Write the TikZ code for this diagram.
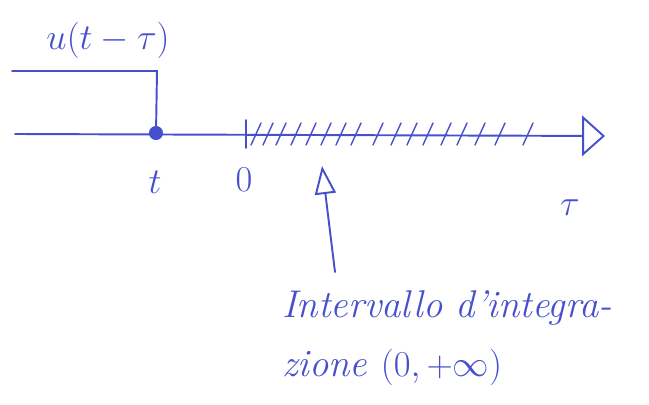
\documentclass[tikz,border=0pt]{standalone}
\usetikzlibrary{arrows.meta}
\definecolor{ink}{RGB}{70,80,205}
\begin{document}
\begin{tikzpicture}[x=0.02cm,y=-0.02cm,
  pen/.style={draw=ink,line width=1.1pt,line cap=round},
  lbl/.style={text=ink,font=\itshape\fontsize{22}{26}\selectfont,inner sep=0pt},
  note/.style={text=ink,font=\itshape\fontsize{22}{34}\selectfont,inner sep=0pt,align=left}]
\useasboundingbox (0,0) rectangle (649,405);
% axis
\coordinate (ax0) at (15,134);
\coordinate (axend) at (605,136);
\node[circle,fill=ink,inner sep=0pt,minimum size=8pt] (dot) at (156,133) {};
\draw[pen,-{Triangle[open,length=13pt,width=23pt]}] (ax0) -- (axend);
% step function
\coordinate (s0) at (12,71);
\coordinate (s1) at (157,71);
\draw[pen] (s0) -- (s1) -- (dot.center);
\node[lbl] (u) at (108,40) {$u(t-\tau)$};
% tick at 0
\coordinate (z0) at (246,120);
\coordinate (z1) at (246,148);
\draw[pen] (z0) -- (z1);
% hatching
\foreach \x in {256,268,281,296,311,326,341,356,378,396,412,428,446,462,480,500,528}
  \draw[pen,line width=0.8pt] (\x-5,145) -- (\x+5,123);
% labels
\node[lbl] (tl) at (155,182) {$t$};
\node[lbl] (zl) at (244,180) {$0$};
\node[lbl] (taul) at (570,208) {$\tau$};
% arrow to interval
\coordinate (a0) at (335,272);
\coordinate (a1) at (322,166);
\draw[pen,-{Triangle[open,length=16pt,width=12pt]}] (a0) -- (a1);
\node[note,anchor=north west] (txt) at (282,290) {Intervallo d'integra-\\zione $(0,+\infty)$};
\end{tikzpicture}
\end{document}
